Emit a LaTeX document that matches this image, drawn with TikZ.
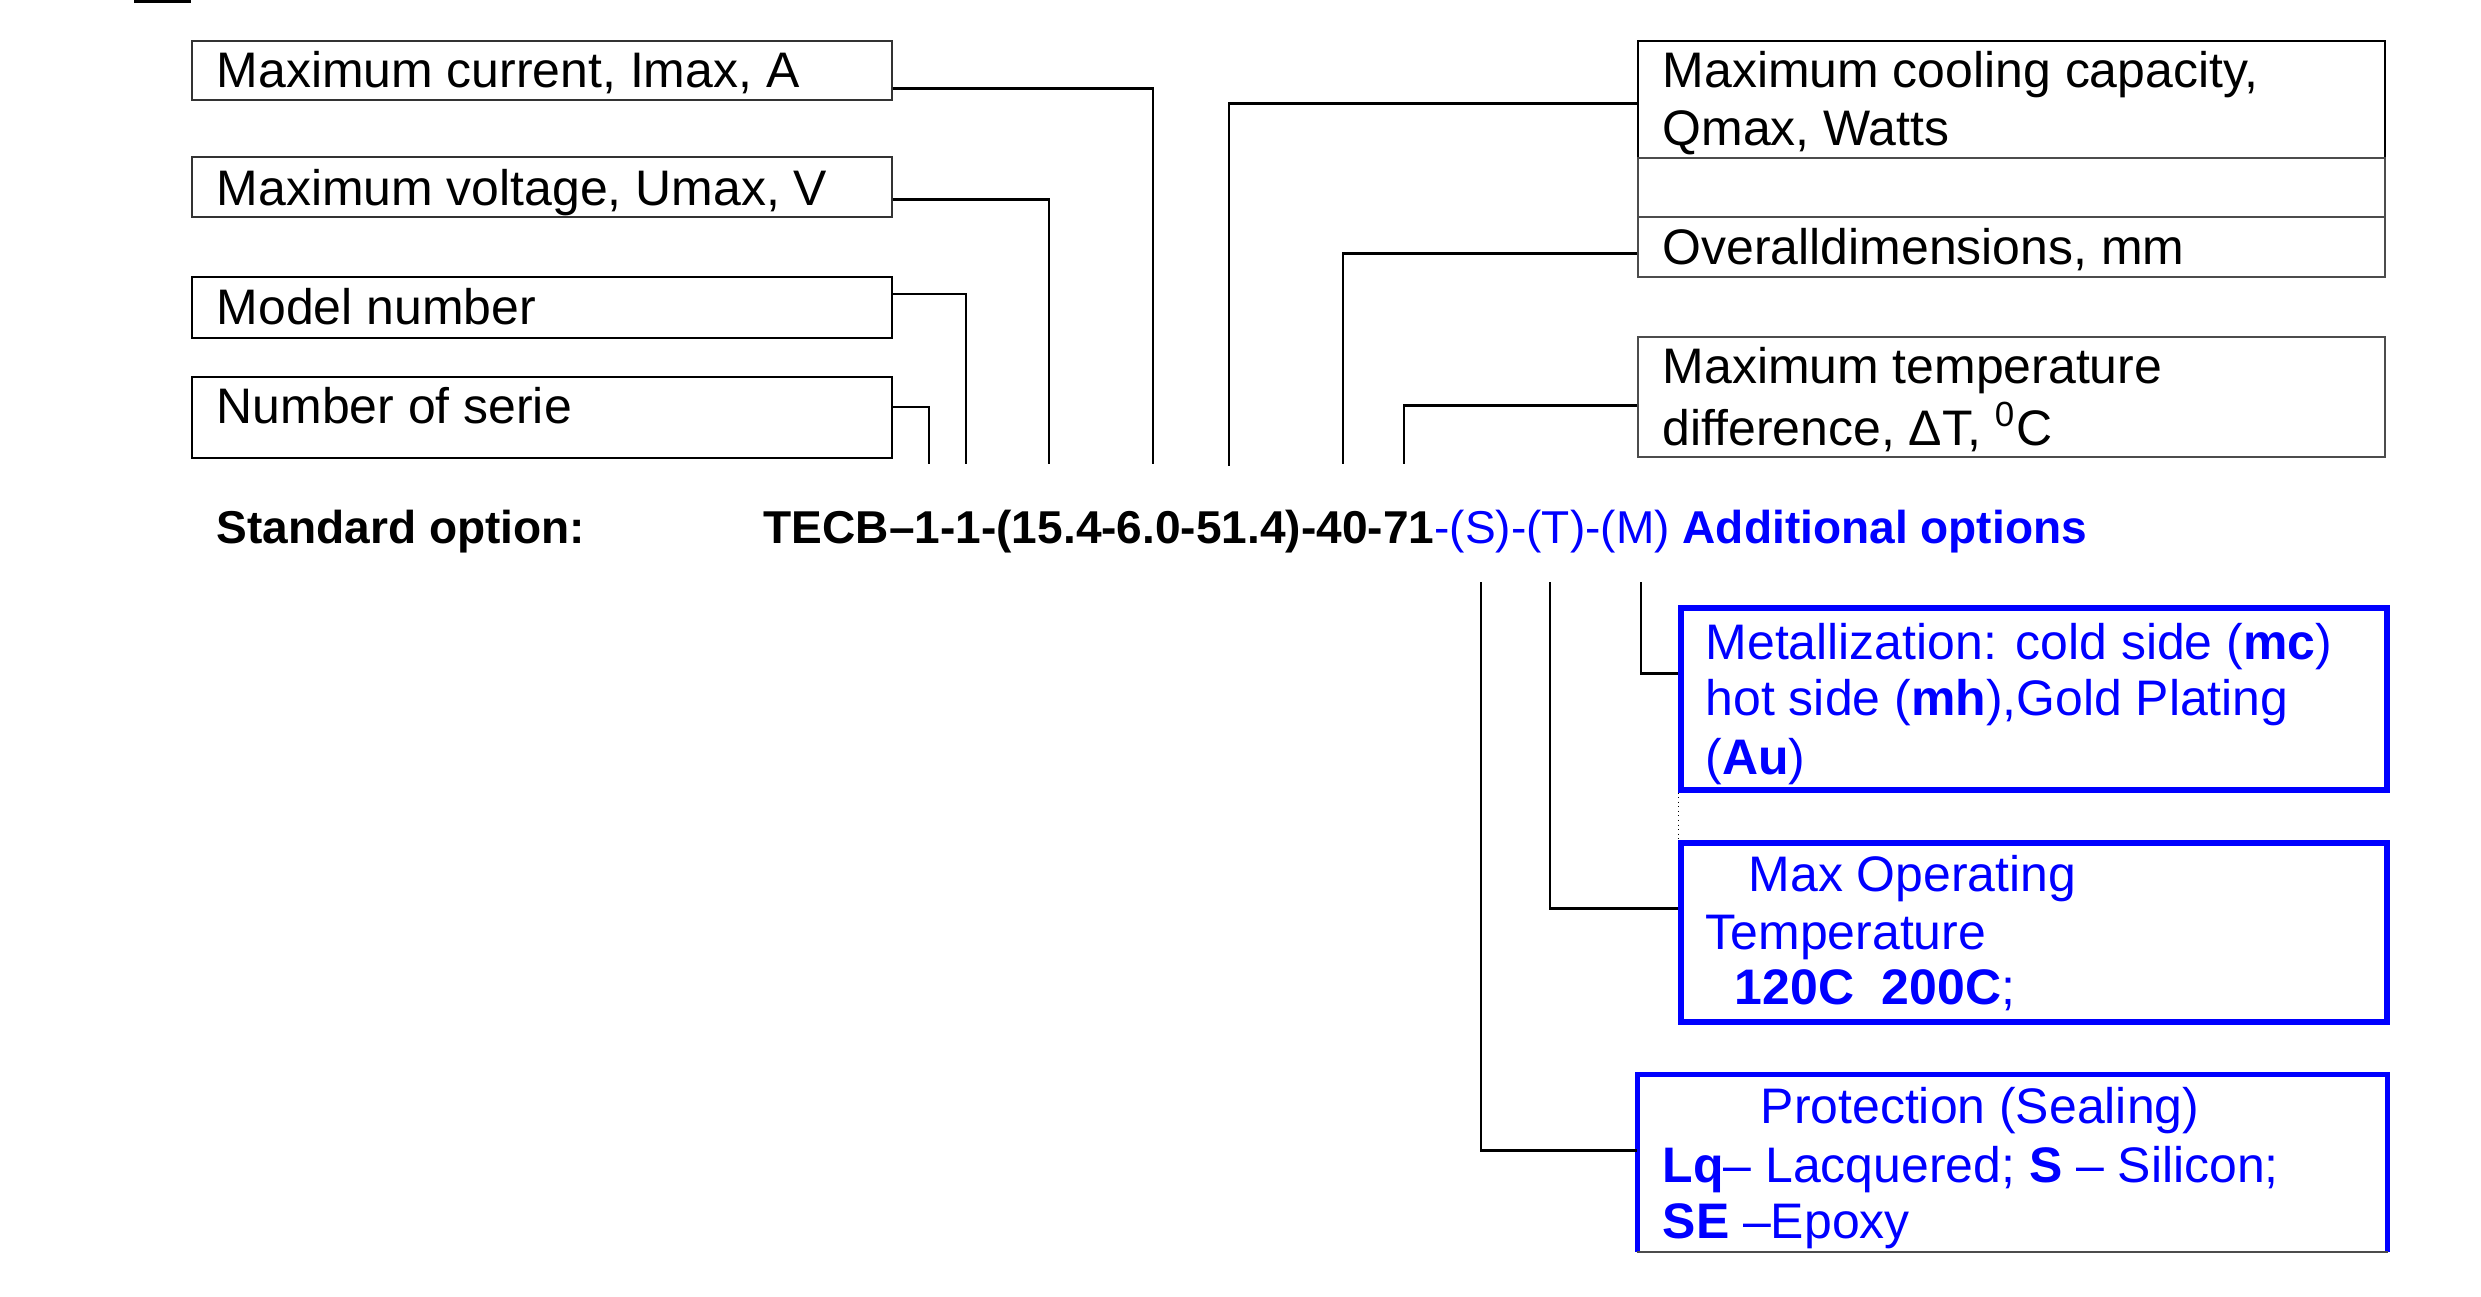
\documentclass[tikz,border=0pt]{standalone}
\usepackage{fontspec}
\setmainfont{Liberation Sans}
\usetikzlibrary{fit,calc}
\definecolor{optblue}{RGB}{0,0,255}
\tikzset{
  lbox/.style={draw=black!80, line width=0.5pt, inner sep=0pt},
  lboxd/.style={draw=black, line width=0.6pt, inner sep=0pt},
  rboxk/.style={draw=black, line width=0.75pt, inner sep=0pt},
  rbox/.style={draw=black!70, line width=0.5pt, inner sep=0pt},
  bbox/.style={draw=optblue, line width=1.45pt, inner sep=0pt},
  conn/.style={draw=black, line width=0.8pt},
  lbl/.style={anchor=base west, inner sep=0pt, font=\fontsize{14.2pt}{17pt}\selectfont},
  codetxt/.style={anchor=base west, inner sep=0pt, font=\fontsize{13.1pt}{16pt}\selectfont\bfseries},
  btxt/.style={lbl, text=optblue},
}
\begin{document}
\begin{tikzpicture}[x=0.01cm,y=-0.01cm]
\useasboundingbox (0,0) rectangle (2481,1296);
% stray mark at top
\draw[line width=0.9pt] (134,1) -- (191,1);

% left boxes
\node[lbox, fit={(192,41) (892,100)}] (b1) {};
\node[lbox, fit={(192,157) (892,217)}] (b2) {};
\node[lboxd, fit={(192,277) (892,338)}] (b3) {};
\node[lboxd, fit={(192,377) (892,458)}] (b4) {};
\node[lbl] (t1) at (216,87) {Maximum current, Imax, A};
\node[lbl] (t2) at (216,205) {Maximum voltage, Umax, V};
\node[lbl] (t3) at (216,324) {Model number};
\node[lbl] (t4) at (216,423) {Number of serie};

% right boxes
\node[rboxk, fit={(1638,41) (2385,158)}] (r1) {};
\node[rbox, fit={(1638,158) (2385,217)}] (r2) {};
\node[rbox, fit={(1638,217) (2385,277)}] (r3) {};
\node[rbox, fit={(1638,337) (2385,457)}] (r4) {};
\node[lbl] (q1) at (1662,87) {Maximum cooling capacity,};
\node[lbl] (q2) at (1662,145) {Qmax, Watts};
\node[lbl] (q3) at (1662,264) {Overalldimensions, mm};
\node[lbl] (q4) at (1662,383) {Maximum temperature};
\node[lbl] (q5) at (1662,445) {difference, ΔT, \textsuperscript{0}C};

% tick ends at the code line
\coordinate (k1) at (1153,464);
\coordinate (k2) at (1049,464);
\coordinate (k3) at (966,464);
\coordinate (k4) at (929,464);
\coordinate (k5) at (1229,466);
\coordinate (k6) at (1343,464);
\coordinate (k7) at (1404,464);
\draw[conn] ($(b1.north east)+(0,48)$) -| (k1);
\draw[conn] ($(b2.north east)+(0,43)$) -| (k2);
\draw[conn] ($(b3.north east)+(0,18)$) -| (k3);
\draw[conn] ($(b4.north east)+(0,31)$) -| (k4);
\draw[conn] ($(r1.north west)+(0,64)$) -| (k5);
\draw[conn] ($(r3.north west)+(0,37)$) -| (k6);
\draw[conn] ($(r4.north west)+(0,69)$) -| (k7);

% code line
\node[codetxt] (std) at (216,543) {Standard option:};
\node[codetxt] (code) at (763,543) {TECB–1-1-(15.4-6.0-51.4)-40-71\textcolor{optblue}{\mdseries -(S)-(T)-(M)} \textcolor{optblue}{Additional options}};

% blue option boxes
\node[bbox, fit={(1681,608) (2387,790)}] (mbox) {};
\node[bbox, fit={(1681,843) (2387,1022)}] (tbox) {};
\node[inner sep=0pt, fit={(1638,1075) (2387,1251)}] (pbox) {};
\draw[optblue, line width=1.45pt] (pbox.south west) -- (pbox.north west) -- (pbox.north east) -- (pbox.south east);
\draw[black!70, line width=0.5pt] (pbox.south west) -- (pbox.south east);
\draw[black, line width=0.3pt, densely dotted] (mbox.south west) -- (tbox.north west);

\node[btxt] (m1) at (1705,659) {Metallization: cold side (\textbf{mc})};
\node[btxt] (m2) at (1705,715) {hot side (\textbf{mh}),Gold Plating};
\node[btxt] (m3) at (1705,774) {(\textbf{Au})};
\node[btxt] (o1) at (1748,891) {Max Operating};
\node[btxt] (o2) at (1705,949) {Temperature};
\node[btxt] (o3) at (1734,1004) {\textbf{120C\ \ 200C};};
\node[btxt] (p1) at (1760,1123) {Protection (Sealing)};
\node[btxt] (p2) at (1662,1182) {\textbf{Lq}– Lacquered; \textbf{S} – Silicon;};
\node[btxt] (p3) at (1662,1238) {\textbf{SE} –Epoxy};

% option connectors
\coordinate (s0) at (1481,582);
\coordinate (u0) at (1550,582);
\coordinate (v0) at (1641,582);
\draw[conn] (s0) |- ($(pbox.north west)+(0,76)$);
\draw[conn] (u0) |- ($(tbox.north west)+(0,68)$);
\draw[conn] (v0) |- ($(mbox.north west)+(0,68)$);
\end{tikzpicture}
\end{document}
